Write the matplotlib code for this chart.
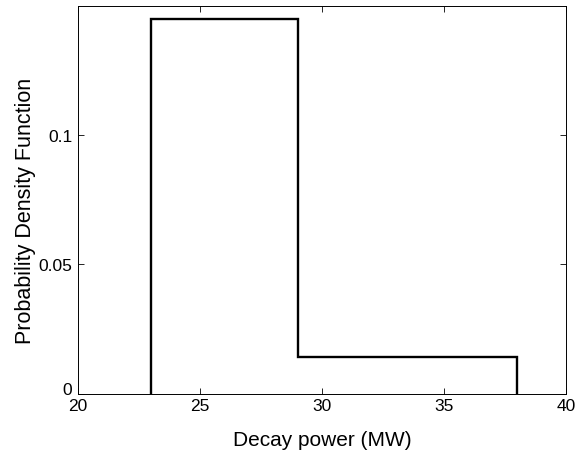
import matplotlib
matplotlib.use('Agg')
import matplotlib.pyplot as plt

# histogram-style PDF of the decay power
bin_edges = [23, 29, 38]
pdf_values = [0.1448, 0.0144]

x_ticks = [20, 25, 30, 35, 40]
y_ticks = [0, 0.05, 0.1]
y_tick_labels = ['0', '0.05', '0.1']

plt.rcParams['font.family'] = ['Liberation Sans', 'DejaVu Sans']

fig = plt.figure(figsize=(5.86, 4.56), dpi=100)
ax = fig.add_axes([0.133, 0.134, 0.833, 0.851])

ax.stairs(pdf_values, bin_edges, baseline=0, color='black', linewidth=1.7)

ax.set_xlim(20, 40)
ax.set_ylim(0, 0.1498)
ax.set_xticks(x_ticks)
ax.set_yticks(y_ticks)
ax.set_yticklabels(y_tick_labels)

ax.tick_params(direction='in', top=True, right=True, labelsize=12.5,
               length=4, width=0.6)
ax.tick_params(axis='x', pad=3)
ax.tick_params(axis='y', pad=4)
for spine in ax.spines.values():
    spine.set_linewidth(0.7)

# MATLAB puts the "0" label just above the origin
ax.get_yticklabels()[0].set_va('baseline')

ax.set_xlabel('Decay power (MW)', fontsize=15, labelpad=12)
ax.set_ylabel('Probability Density Function', fontsize=15.5)
ax.yaxis.set_label_coords(-0.085, 0.474)

fig.savefig('out.png', dpi=100)
